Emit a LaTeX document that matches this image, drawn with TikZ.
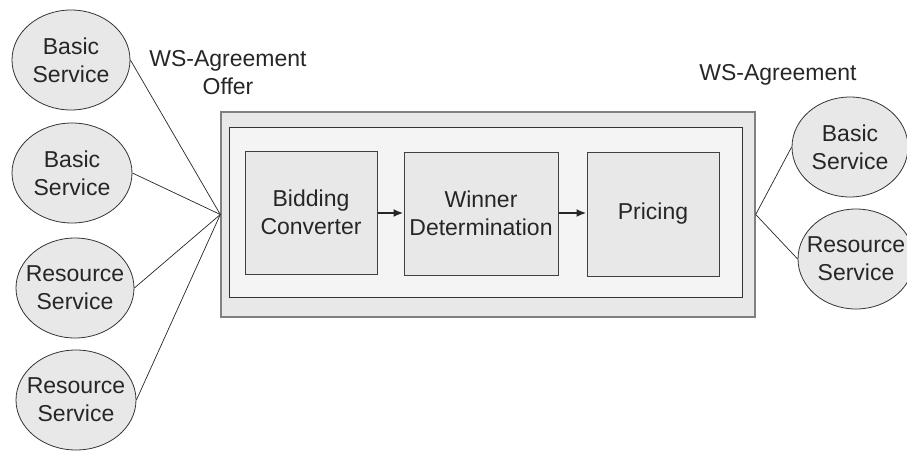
\documentclass[tikz,border=0pt]{standalone}
\usepackage{fontspec}
\setmainfont{Liberation Sans}
\usetikzlibrary{shapes.geometric,arrows.meta}
\definecolor{fillg}{HTML}{E8E8E8}
\definecolor{fillw}{HTML}{F4F4F4}
\definecolor{txt}{HTML}{262626}
\begin{document}
\begin{tikzpicture}[x=1pt,y=-1pt,
  every node/.style={text=txt,font=\fontsize{23}{28}\selectfont},
  svc/.style={ellipse,draw=black!80,fill=fillg,line width=0.8pt,inner sep=0pt,minimum width=118pt,minimum height=100pt},
  svctext/.style={align=center,inner sep=0pt},
  stage/.style={draw=black!75,fill=fillg,line width=1pt,inner sep=0pt,align=center},
  link/.style={draw=black!85,line width=0.7pt},
  flow/.style={draw=black!85,line width=2pt,-{Latex[length=10pt,width=8pt]}}]
\useasboundingbox (0,0) rectangle (907,450);
% outer and inner frames
\node[draw=black!50,fill=fillg,line width=1.4pt,minimum width=534pt,minimum height=205pt,inner sep=0pt] (outer) at (488,214.5) {};
\node[draw=black!80,fill=fillw,line width=1pt,minimum width=513pt,minimum height=170pt,inner sep=0pt] (inner) at (485.5,212) {};
% stages
\node[stage,minimum width=132pt,minimum height=123pt] (bid) at (311,212.5) {Bidding\\Converter};
\node[stage,minimum width=154pt,minimum height=123pt] (win) at (481,213.5) {Winner\\Determination};
\node[stage,minimum width=132pt,minimum height=124pt] (pri) at (653,214) {Pricing};
\draw[flow] (bid.east |- 0,213) -- (win.west |- 0,213);
\draw[flow] (win.east |- 0,213) -- (pri.west |- 0,213);
% left services
\node[svc] (l1) at (71,60) {};
\node[svctext] (l1t) at (l1) {Basic\\Service};
\node[svc,minimum width=120pt] (l2) at (72,173) {};
\node[svctext] (l2t) at (l2) {Basic\\Service};
\node[svc] (l3) at (75,288) {};
\node[svctext] (l3t) at (l3) {Resource\\Service};
\node[svc,minimum width=120pt] (l4) at (76,400) {};
\node[svctext] (l4t) at (l4) {Resource\\Service};
% right services
\node[svc,minimum width=116pt] (r1) at (850,147) {};
\node[svctext] (r1t) at (r1) {Basic\\Service};
\node[svc,minimum width=116pt] (r2) at (856,259) {};
\node[svctext] (r2t) at (r2) {Resource\\Service};
% labels
\node[align=center] (offer) at (228,73) {WS-Agreement\\Offer};
\node (agr) at (778,75) {WS-Agreement};
% connectors
\coordinate (lp) at (outer.west);
\coordinate (rp) at (outer.east);
\foreach \n in {l1,l2,l3,l4} \draw[link] (\n.east) -- (lp);
\foreach \n in {r1,r2} \draw[link] (\n.west) -- (rp);
\end{tikzpicture}
\end{document}
